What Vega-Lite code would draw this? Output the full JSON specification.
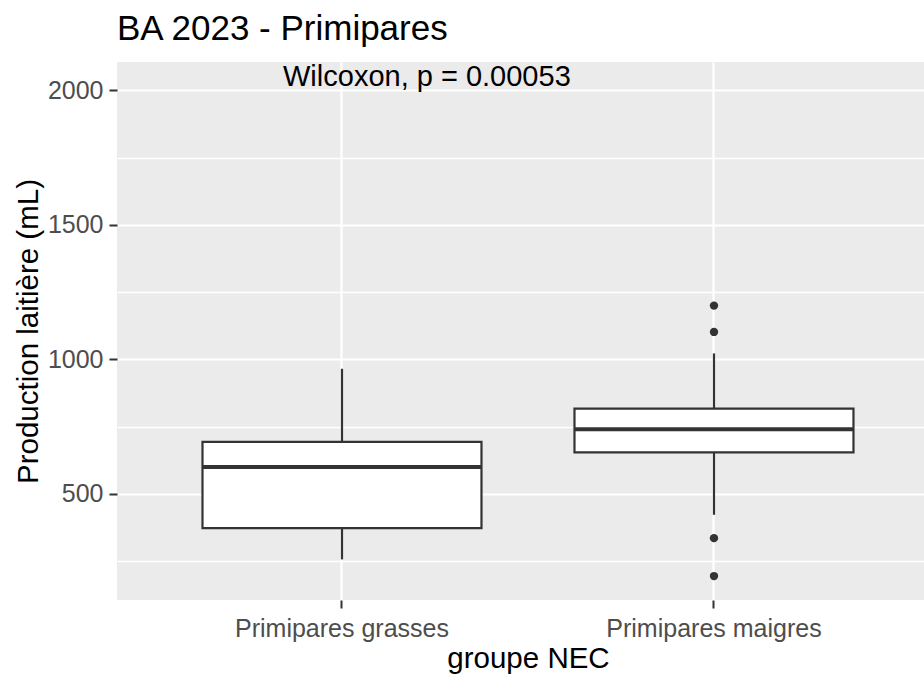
{
  "$schema": "https://vega.github.io/schema/vega-lite/v6.json",
  "width": 807,
  "height": 538,
  "autosize": {"type": "none"},
  "padding": {"left": 117, "top": 62, "right": 0, "bottom": 75},
  "background": "white",
  "title": {
    "text": "BA 2023 - Primipares",
    "anchor": "start",
    "frame": "group",
    "font": "Liberation Sans",
    "fontSize": 35,
    "fontWeight": "normal",
    "color": "black",
    "baseline": "alphabetic",
    "offset": 22,
    "dy": 35
  },
  "config": {
    "view": {"fill": "#EBEBEB", "stroke": null},
    "axis": {
      "labelFont": "Liberation Sans",
      "titleFont": "Liberation Sans",
      "labelFontSize": 25,
      "titleFontSize": 29.5,
      "titleFontWeight": "normal",
      "labelColor": "#4D4D4D",
      "titleColor": "black",
      "labelLimit": 0,
      "domain": false,
      "gridColor": "white"
    }
  },
  "datasets": {
    "boxes": [
      {"g": "Primipares grasses", "lower": 256, "q1": 372, "median": 600, "q3": 693, "upper": 965},
      {"g": "Primipares maigres", "lower": 422, "q1": 654, "median": 740, "q3": 817, "upper": 1022}
    ],
    "outliers": [
      {"g": "Primipares maigres", "value": 1200},
      {"g": "Primipares maigres", "value": 1102},
      {"g": "Primipares maigres", "value": 335},
      {"g": "Primipares maigres", "value": 194}
    ],
    "annot": [
      {"g": "Primipares grasses", "y": 2015, "label": "Wilcoxon, p = 0.00053"}
    ]
  },
  "layer": [
    {
      "data": {"name": "boxes"},
      "mark": {"type": "rule", "color": "#333333", "strokeWidth": 2.2},
      "encoding": {
        "x": {
          "field": "g",
          "type": "nominal",
          "scale": {"type": "band", "domain": ["Primipares grasses", "Primipares maigres"], "paddingInner": 0.25, "paddingOuter": 0.2097, "align": 0.548},
          "axis": {
            "title": "groupe NEC",
            "labelAngle": 0,
            "bandPosition": 0.5,
            "grid": true,
            "gridWidth": 2.2,
            "tickSize": 8,
            "tickWidth": 2,
            "tickColor": "#333333",
            "labelPadding": 8,
            "titleBaseline": "alphabetic",
            "titleY": 67,
            "titleX": 411
          }
        },
        "y": {
          "field": "lower",
          "type": "quantitative",
          "scale": {"domain": [105, 2106], "zero": false, "nice": false},
          "axis": {
            "title": "Production laitière (mL)",
            "values": [250, 500, 750, 1000, 1250, 1500, 1750, 2000],
            "format": "d",
            "labelExpr": "datum.value % 500 === 0 ? datum.label : ''",
            "labelOverlap": false,
            "grid": true,
            "gridWidth": {"condition": {"test": "datum.value % 500 === 0", "value": 2.2}, "value": 1.4},
            "tickColor": {"condition": {"test": "datum.value % 500 === 0", "value": "#333333"}, "value": "transparent"},
            "tickSize": 8,
            "tickWidth": 2,
            "labelPadding": 6,
            "titleBaseline": "alphabetic",
            "titleX": -80
          }
        },
        "y2": {"field": "upper"}
      }
    },
    {
      "data": {"name": "boxes"},
      "mark": {"type": "bar", "fill": "white", "stroke": "#333333", "strokeWidth": 2.2},
      "encoding": {
        "x": {"field": "g", "type": "nominal"},
        "y": {"field": "q1", "type": "quantitative"},
        "y2": {"field": "q3"}
      }
    },
    {
      "data": {"name": "boxes"},
      "mark": {"type": "rule", "color": "#333333", "strokeWidth": 4},
      "encoding": {
        "x": {"field": "g", "type": "nominal", "bandPosition": 0},
        "x2": {"field": "g", "bandPosition": 1},
        "y": {"field": "median", "type": "quantitative"}
      }
    },
    {
      "data": {"name": "outliers"},
      "mark": {"type": "point", "filled": true, "color": "#333333", "opacity": 1, "size": 70},
      "encoding": {
        "x": {"field": "g", "type": "nominal"},
        "y": {"field": "value", "type": "quantitative"}
      }
    },
    {
      "data": {"name": "annot"},
      "mark": {"type": "text", "font": "Liberation Sans", "fontSize": 29, "color": "black", "align": "left", "baseline": "alphabetic", "dx": -59},
      "encoding": {
        "x": {"field": "g", "type": "nominal"},
        "y": {"field": "y", "type": "quantitative"},
        "text": {"field": "label"}
      }
    }
  ]
}
